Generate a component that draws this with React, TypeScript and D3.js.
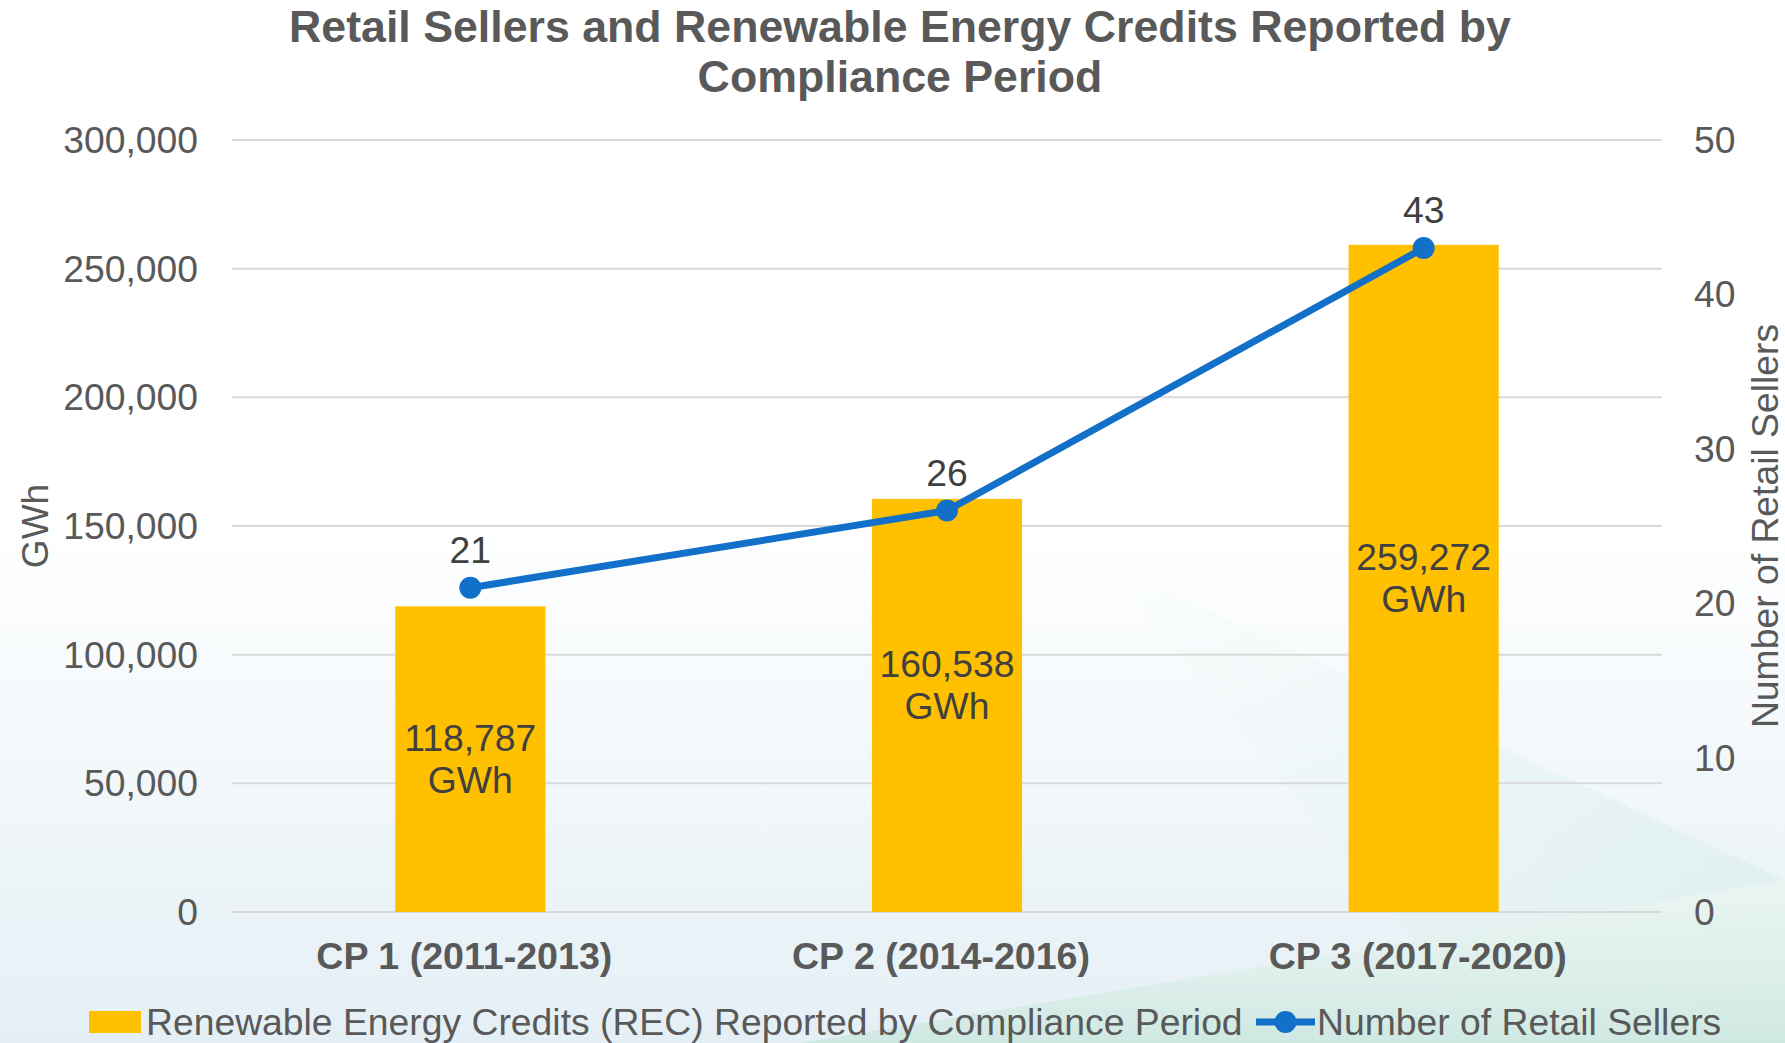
import React from "react";
import * as d3 from "d3";

const categories = ["CP 1 (2011-2013)", "CP 2 (2014-2016)", "CP 3 (2017-2020)"];
const recValues = [118787, 160538, 259272];
const sellerCounts = [21, 26, 43];
const leftTicks = [0, 50000, 100000, 150000, 200000, 250000, 300000];
const rightTicks = [0, 10, 20, 30, 40, 50];
const titleLines = ["Retail Sellers and Renewable Energy Credits Reported by", "Compliance Period"];
const barLegend = "Renewable Energy Credits (REC) Reported by Compliance Period";
const lineLegend = "Number of Retail Sellers";

const W = 1785;
const H = 1043;
const M = { left: 232, right: 1662, top: 140, bottom: 912 };
const labelShift = [0, -20, 0];
const FONT = "Arial, 'Liberation Sans', sans-serif";
const TXT = "#595959";

export default function App() {
  const x = d3.scaleBand<string>().domain(categories).range([M.left, M.right]).paddingInner(0.685).paddingOuter(0.3425);
  const yL = d3.scaleLinear().domain([0, 300000]).range([M.bottom, M.top]);
  const yR = d3.scaleLinear().domain([0, 50]).range([M.bottom, M.top]);
  const fmt = d3.format(",");
  const line = d3
    .line<number>()
    .x((_, i) => (x(categories[i]) as number) + x.bandwidth() / 2)
    .y((d) => yR(d));

  return (
    <svg width={W} height={H} style={{ position: "absolute", left: 0, top: 0, fontFamily: FONT }}>
      <defs>
        <linearGradient id="bgv" x1="0" y1="0" x2="0" y2="1">
          <stop offset="0" stopColor="#ffffff" />
          <stop offset="0.5" stopColor="#ffffff" />
          <stop offset="1" stopColor="#e4eff5" />
        </linearGradient>
        <linearGradient id="teal" x1="0" y1="0" x2="0" y2="1">
          <stop offset="0" stopColor="#eef7f4" stopOpacity="0.6" />
          <stop offset="1" stopColor="#cfe8e2" />
        </linearGradient>
        <linearGradient id="teal2" x1="0" y1="0" x2="1" y2="0">
          <stop offset="0" stopColor="#dff0ec" stopOpacity="0" />
          <stop offset="1" stopColor="#d6ede7" stopOpacity="0.9" />
        </linearGradient>
      </defs>
      <rect x={0} y={0} width={W} height={H} fill="url(#bgv)" />
      <polygon points={`1100,560 1785,880 1785,1043 1500,1043`} fill="url(#teal2)" opacity={0.6} />
      <polygon points={`800,1043 1785,880 1785,1043`} fill="url(#teal)" />

      {titleLines.map((t, i) => (
        <text key={i} x={900} y={42 + i * 50} textAnchor="middle" fontSize={44.7} fontWeight="bold" fill={TXT}>
          {t}
        </text>
      ))}

      {leftTicks.map((t) => (
        <g key={t}>
          <line x1={M.left} x2={M.right} y1={yL(t)} y2={yL(t)} stroke="#d9d9d9" strokeWidth={2} />
          <text x={198} y={yL(t)} dy="0.35em" textAnchor="end" fontSize={37.3} fill={TXT}>
            {fmt(t)}
          </text>
        </g>
      ))}
      {rightTicks.map((t) => (
        <text key={t} x={1694} y={yR(t)} dy="0.35em" textAnchor="start" fontSize={37.3} fill={TXT}>
          {t}
        </text>
      ))}

      <text transform={`translate(48,526) rotate(-90)`} textAnchor="middle" fontSize={37} fill={TXT}>
        GWh
      </text>
      <text transform={`translate(1778,526) rotate(-90)`} textAnchor="middle" fontSize={37.3} fill={TXT}>
        Number of Retail Sellers
      </text>

      {recValues.map((v, i) => {
        const bx = x(categories[i]) as number;
        const top = yL(v);
        const mid = (top + M.bottom) / 2 + labelShift[i];
        const cx = bx + x.bandwidth() / 2;
        return (
          <g key={i}>
            <rect x={bx} y={top} width={x.bandwidth()} height={M.bottom - top} fill="#FFC000" />
            <text x={cx} y={mid - 21} dy="0.35em" textAnchor="middle" fontSize={37.3} fill="#404040">
              {fmt(v)}
            </text>
            <text x={cx} y={mid + 21} dy="0.35em" textAnchor="middle" fontSize={37.3} fill="#404040">
              GWh
            </text>
            <text x={cx - 6} y={956} dy="0.35em" textAnchor="middle" fontSize={37.6} fontWeight="bold" fill={TXT}>
              {categories[i]}
            </text>
          </g>
        );
      })}

      <path d={line(sellerCounts) || ""} fill="none" stroke="#1270C8" strokeWidth={7} strokeLinejoin="round" />
      {sellerCounts.map((c, i) => {
        const cx = (x(categories[i]) as number) + x.bandwidth() / 2;
        return (
          <g key={i}>
            <circle cx={cx} cy={yR(c)} r={11} fill="#1270C8" />
            <text x={cx} y={yR(c) - 38} dy="0.35em" textAnchor="middle" fontSize={37.3} fill="#404040">
              {c}
            </text>
          </g>
        );
      })}

      <rect x={89} y={1011} width={52} height={22} fill="#FFC000" />
      <text x={146} y={1022} dy="0.35em" fontSize={37.3} fill={TXT}>
        {barLegend}
      </text>
      <line x1={1256} x2={1315} y1={1022} y2={1022} stroke="#1270C8" strokeWidth={7} />
      <circle cx={1285.5} cy={1022} r={11} fill="#1270C8" />
      <text x={1317} y={1022} dy="0.35em" fontSize={37.3} fill={TXT}>
        {lineLegend}
      </text>
    </svg>
  );
}
